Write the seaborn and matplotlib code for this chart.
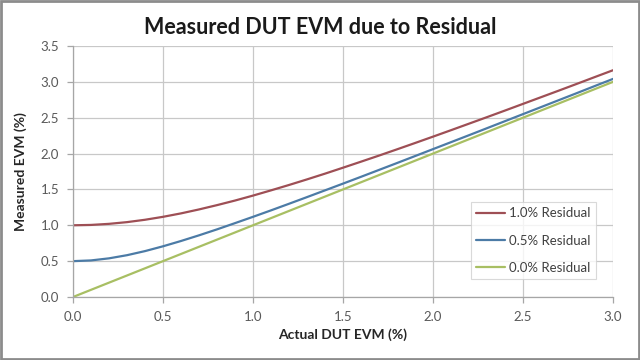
import numpy as np
import pandas as pd
import matplotlib
matplotlib.use("Agg")
import matplotlib.pyplot as plt
import seaborn as sns
from matplotlib.patches import Rectangle

actual_evm = [0.0, 0.1, 0.2, 0.3, 0.4, 0.5, 0.6, 0.7, 0.8, 0.9, 1.0,
              1.1, 1.2, 1.3, 1.4, 1.5, 1.6, 1.7, 1.8, 1.9, 2.0,
              2.1, 2.2, 2.3, 2.4, 2.5, 2.6, 2.7, 2.8, 2.9, 3.0]
residual_1_0 = [1.00, 1.005, 1.02, 1.044, 1.077, 1.118, 1.166, 1.221, 1.281, 1.345, 1.414,
                1.487, 1.562, 1.640, 1.720, 1.803, 1.887, 1.972, 2.059, 2.147, 2.236,
                2.326, 2.417, 2.508, 2.600, 2.693, 2.786, 2.879, 2.973, 3.068, 3.162]
residual_0_5 = [0.50, 0.510, 0.539, 0.583, 0.640, 0.707, 0.781, 0.860, 0.943, 1.030, 1.118,
                1.208, 1.300, 1.393, 1.487, 1.581, 1.676, 1.772, 1.868, 1.965, 2.062,
                2.159, 2.256, 2.354, 2.452, 2.550, 2.648, 2.746, 2.844, 2.943, 3.041]
residual_0_0 = [0.0, 0.1, 0.2, 0.3, 0.4, 0.5, 0.6, 0.7, 0.8, 0.9, 1.0,
                1.1, 1.2, 1.3, 1.4, 1.5, 1.6, 1.7, 1.8, 1.9, 2.0,
                2.1, 2.2, 2.3, 2.4, 2.5, 2.6, 2.7, 2.8, 2.9, 3.0]
series_names = ["1.0% Residual", "0.5% Residual", "0.0% Residual"]
x_ticks = [0.0, 0.5, 1.0, 1.5, 2.0, 2.5, 3.0]
y_ticks = [0.0, 0.5, 1.0, 1.5, 2.0, 2.5, 3.0, 3.5]

frames = []
for name, vals in zip(series_names, [residual_1_0, residual_0_5, residual_0_0]):
    frames.append(pd.DataFrame({"actual": actual_evm, "measured": vals, "series": name}))
df = pd.concat(frames, ignore_index=True)

sns.set_theme(style="white")
plt.rcParams["font.family"] = ["Lato", "DejaVu Sans"]

fig = plt.figure(figsize=(6.4, 3.6), dpi=100)
ax = fig.add_axes([73 / 640, 1 - 297 / 360, (613 - 73) / 640, (297 - 46) / 360])

palette = {"1.0% Residual": "#9E4F55", "0.5% Residual": "#4C7BA6", "0.0% Residual": "#A8BF63"}
sns.lineplot(data=df, x="actual", y="measured", hue="series", palette=palette,
             linewidth=1.6, ax=ax, legend=True)

ax.set_xlim(0, 3.0)
ax.set_ylim(0, 3.5)
ax.set_xticks(x_ticks)
ax.set_yticks(y_ticks)
ax.set_xticklabels([f"{v:.1f}" for v in x_ticks])
ax.set_yticklabels([f"{v:.1f}" for v in y_ticks])
ax.grid(True, color="#C8C8C8", linewidth=0.9)
ax.set_axisbelow(True)
for s in ["top", "right"]:
    ax.spines[s].set_visible(False)
for s in ["left", "bottom"]:
    ax.spines[s].set_color("#A6A6A6")
    ax.spines[s].set_linewidth(0.9)
ax.tick_params(axis="both", which="major", length=4, width=0.9, color="#A6A6A6",
               labelsize=9.5, labelcolor="#595959", pad=6, direction="out")
ax.tick_params(axis="x", bottom=True)
ax.tick_params(axis="y", left=True)

ax.set_xlabel("Actual DUT EVM (%)", fontsize=10, fontweight="bold", color="#262626", labelpad=4)
ax.set_ylabel("Measured EVM (%)", fontsize=10, fontweight="bold", color="#262626", labelpad=10)

fig.text(320 / 640, 1 - 27 / 360, "Measured DUT EVM due to Residual", ha="center", va="center",
         fontsize=15.5, fontweight="bold", color="#1a1a1a")

leg = ax.legend(loc="lower right", bbox_to_anchor=((596 - 73) / 540, (297 - 279) / 251),
                frameon=True, fontsize=9.5, handlelength=2.2, labelspacing=1.15,
                borderpad=0.4, borderaxespad=0.0, fancybox=False, handletextpad=0.3)
leg.get_frame().set_edgecolor("#D0D0D0")
leg.get_frame().set_linewidth(0.8)
for t in leg.get_texts():
    t.set_color("#404040")

fig.patches.append(Rectangle((0.002, 0.003), 0.996, 0.994, transform=fig.transFigure,
                             fill=False, edgecolor="#8C8C8C", linewidth=2))

fig.savefig("out.png", dpi=100)
